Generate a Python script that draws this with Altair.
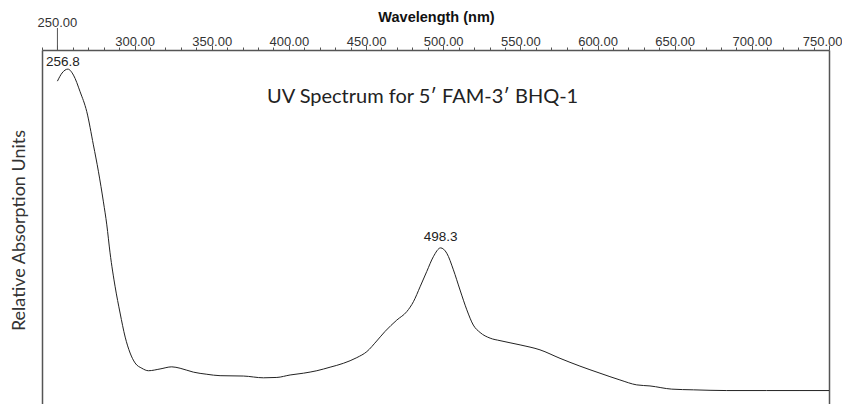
import altair as alt
import pandas as pd

# Spectrum trace (wavelength nm, relative absorbance 0-1)
wavelength = [250.0, 253.0, 256.8, 260.4, 264.7, 269.0, 273.3, 276.6, 279.8, 282.0,
              284.1, 287.4, 290.6, 293.9, 297.1, 300.3, 304.7, 309.0, 316.5, 324.1,
              329.5, 338.1, 346.8, 355.4, 370.5, 383.5, 392.2, 400.8, 409.4, 418.1,
              426.7, 435.3, 444.0, 450.5, 456.9, 462.3, 469.9, 476.4, 480.7, 485.0,
              489.3, 493.6, 498.3, 502.3, 506.6, 510.9, 515.3, 519.5, 523.9, 530.4,
              536.8, 549.8, 562.7, 575.7, 588.6, 601.6, 614.5, 625.4, 634.0, 648.1,
              662.1, 683.7, 709.6, 731.2, 750.0]
absorbance = [0.912, 0.935, 0.946, 0.929, 0.882, 0.826, 0.732, 0.656, 0.571, 0.506,
              0.427, 0.331, 0.257, 0.189, 0.144, 0.116, 0.101, 0.094, 0.099, 0.105,
              0.101, 0.090, 0.084, 0.080, 0.079, 0.074, 0.075, 0.082, 0.087, 0.094,
              0.104, 0.115, 0.131, 0.148, 0.178, 0.205, 0.237, 0.261, 0.289, 0.331,
              0.374, 0.416, 0.441, 0.426, 0.379, 0.322, 0.266, 0.223, 0.202, 0.186,
              0.179, 0.167, 0.153, 0.129, 0.107, 0.087, 0.068, 0.054, 0.051, 0.042,
              0.040, 0.038, 0.038, 0.038, 0.038]

peak1_wl = [256.8]
peak1_abs = [0.946]
peak1_text = ["256.8"]
peak2_wl = [498.3]
peak2_abs = [0.441]
peak2_text = ["498.3"]

start_tick = [250]
start_text = ["250.00"]
tick_values = list(range(240, 751, 10))

df = pd.DataFrame({"wl": wavelength, "abs": absorbance})
p1 = pd.DataFrame({"wl": peak1_wl, "abs": peak1_abs, "label": peak1_text})
p2 = pd.DataFrame({"wl": peak2_wl, "abs": peak2_abs, "label": peak2_text})
st = pd.DataFrame({"wl": start_tick, "label": start_text})

xscale = alt.Scale(domain=[240, 750], nice=False, zero=False)
yscale = alt.Scale(domain=[0, 1], nice=False, zero=False)

x_axis = alt.Axis(
    orient="top",
    values=tick_values,
    labelExpr="datum.value % 50 == 0 && datum.value != 250 ? format(datum.value, '.2f') : ''",
    labelFont="Liberation Sans",
    labelFontSize=13,
    labelColor="#333333",
    labelPadding=-3,
    labelOverlap=False,
    labelFlush=True,
    labelFlushOffset=13,
    tickColor="#555555",
    tickWidth=1,
    tickSize={"condition": {"test": "datum.value % 50 == 0", "value": 5}, "value": 3},
    domainColor="#555555",
    domainWidth=1.5,
    grid=False,
    title="Wavelength (nm)",
    titleFont="Liberation Sans",
    titleFontSize=14.5,
    titleFontWeight="bold",
    titleColor="#111111",
    titleX=394,
    titleY=-29,
    titleAlign="center",
    titleBaseline="alphabetic",
    titleAngle=0,
)

y_left = alt.Axis(
    orient="left",
    labels=False,
    ticks=False,
    grid=False,
    domainColor="#555555",
    domainWidth=1.5,
    title="Relative Absorption Units",
    titleFont="Lato",
    titleFontSize=18,
    titleFontWeight="normal",
    titleColor="#333333",
    titleAngle=-90,
    titleX=-23,
    titleY=180,
    titleAlign="center",
    titleBaseline="middle",
)

y_right = alt.Axis(
    orient="right",
    labels=False,
    ticks=False,
    grid=False,
    domainColor="#555555",
    domainWidth=1.5,
    title=None,
)

X = alt.X("wl:Q", scale=xscale, axis=x_axis)

line = alt.Chart(df).mark_line(color="#222222", strokeWidth=1, interpolate="monotone").encode(
    x=X,
    y=alt.Y("abs:Q", scale=yscale, axis=y_left),
)

label1 = alt.Chart(p1).mark_text(
    font="Liberation Sans", fontSize=13.5, color="#222222", baseline="bottom", dy=0, dx=-5
).encode(
    x=X,
    y=alt.Y("abs:Q", scale=yscale, axis=y_right),
    text="label:N",
)

label2 = alt.Chart(p2).mark_text(
    font="Liberation Sans", fontSize=13.5, color="#222222", baseline="bottom", dy=-4
).encode(
    x=X,
    y=alt.Y("abs:Q", scale=yscale, axis=None),
    text="label:N",
)

# long tick above the axis marking the 250 nm start, with its raised label
start = alt.Chart(st).mark_rule(color="#555555", strokeWidth=1).encode(
    x=X,
    y=alt.value(0),
    y2=alt.value(-22),
)
start_label = alt.Chart(st).mark_text(
    font="Liberation Sans", fontSize=13, color="#333333", baseline="alphabetic"
).encode(
    x=X,
    y=alt.value(-23),
    text="label:N",
)

chart = alt.layer(line, label1, label2, start, start_label).resolve_axis(y="independent").properties(
    width=787,
    height=354,
    autosize=alt.AutoSizeParams(type="none"),
    padding={"left": 34, "top": 42, "right": 13, "bottom": 0},
    title=alt.TitleParams(
        "UV Spectrum for 5\u2032 FAM-3\u2032 BHQ-1",
        font="Lato",
        fontSize=20,
        fontWeight="normal",
        color="#222222",
        anchor="start",
        frame="group",
        orient="top",
        offset=0,
        dx=225,
        dy=98,
    ),
).configure_view(stroke=None).configure(background="white")

chart.save("out.html", embed_options={"renderer": "svg", "actions": False})
